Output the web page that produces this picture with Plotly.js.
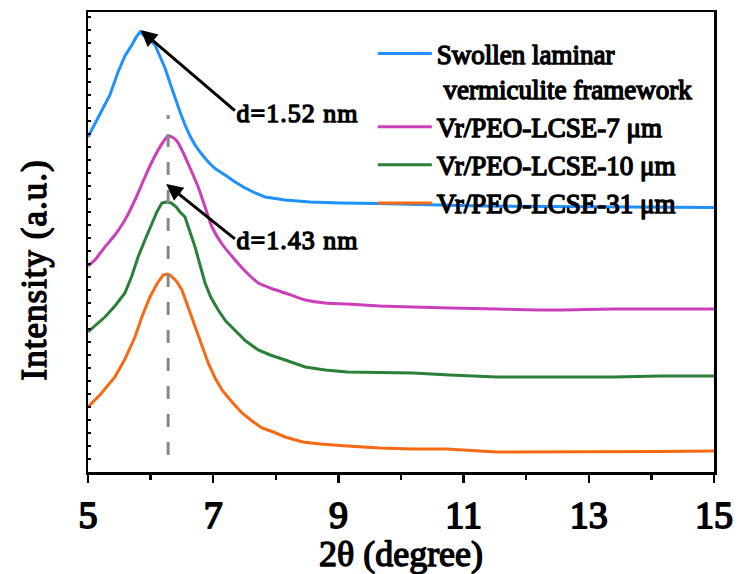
<!DOCTYPE html>
<html>
<head>
<meta charset="utf-8">
<script src="https://cdn.plot.ly/plotly-3.0.1.min.js"></script>
<style>
html,body{margin:0;padding:0;background:#fff;}
#chart{width:740px;height:574px;}
/* thicken the serif text to a bold look */
#chart svg text{stroke:#000;stroke-width:1.4px;stroke-linejoin:round;}
#chart .xtick text{stroke-width:1.8px;}
#chart .annotation-text{letter-spacing:1px;}
</style>
</head>
<body>
<div id="chart"></div>
<script>
// Series names
const seriesNames = [
  "Swollen laminar<br> vermiculite framework",
  "Vr/PEO-LCSE-7 μm",
  "Vr/PEO-LCSE-10 μm",
  "Vr/PEO-LCSE-31 μm"
];
const seriesColors = ["#1E90FF", "#CC3FB8", "#2B8038", "#F56A12"];

// Swollen laminar vermiculite framework
const blueX = [5.00,5.18,5.35,5.48,5.59,5.70,5.78,5.83,5.89,5.99,6.07,6.15,6.23,6.31,6.39,6.47,6.55,6.63,6.71,6.79,6.92,7.04,7.19,7.35,7.51,7.67,7.83,8.15,8.55,9.03,9.66,10.46,11.26,12.38,13.18,13.98,15.00];
const blueY = [335,356,377,400,416,427,436,440,437,432,427,416,404,389,374,360,347,336,327,320,310,303,297,290,284,279,275,272,270,269,268.5,267,266,265.5,265,265,264.5];

// Vr/PEO-LCSE-7 um
const magX = [5.00,5.11,5.27,5.43,5.59,5.75,5.91,6.02,6.12,6.20,6.28,6.34,6.42,6.50,6.63,6.76,6.87,6.98,7.14,7.35,7.54,7.72,7.91,8.15,8.47,8.79,9.14,9.66,10.19,10.78,11.53,12.33,13.39,15.00];
const magY = [206,212,225,237,252,272,295,310,322,330,336,335,331,322,304,285,265,245,228,212,199,189,184,179,172,169,168,166,165,164,163,162,163,163];

// Vr/PEO-LCSE-10 um
const greenX = [5.00,5.13,5.27,5.43,5.59,5.70,5.80,5.91,6.02,6.10,6.18,6.25,6.33,6.41,6.47,6.55,6.63,6.71,6.79,6.87,6.96,7.08,7.20,7.35,7.52,7.72,7.91,8.15,8.47,8.79,9.14,9.66,10.19,10.78,11.53,12.33,13.39,14.14,15.00];
const greenY = [140,147,155,166,179,196,215,232,249,260,269,270,269,265,260,255,240,225,207,189,175,162,151,142,131,122,117,112,105,102,100,99.5,99,97,95,95,95,96,96];

// Vr/PEO-LCSE-31 um
const orangeX = [5.00,5.19,5.43,5.59,5.75,5.86,5.99,6.10,6.20,6.26,6.31,6.41,6.50,6.60,6.71,6.82,6.92,7.03,7.14,7.30,7.46,7.62,7.78,7.96,8.15,8.43,8.71,9.14,9.66,10.19,10.73,11.53,12.33,13.39,14.14,15.00];
const orangeY = [65,77,95,113,135,155,175,188,197,198,197,191,182,165,145,126,109,94,82,70,59,51,44,40,35,30,28,26,24,23,23,20,20,20,20.5,21];

// Dashed reference line at the common peak position
const dashX = [6.28, 6.28];
const dashY = [17, 357];

// Annotations (label text, arrow head, arrow tail, label position)
const annoText = ["d=1.52 nm", "d=1.43 nm"];
const annoHeadX = [5.84, 6.25];
const annoHeadY = [442, 288];
const annoTailX = [7.37, 7.37];
const annoTailY = [360, 232];
const annoLabelX = [7.41, 7.41];
const annoLabelY = [359, 232];

// Axis ticks
const xTickVals = [5, 7, 9, 11, 13, 15];
const xTickText = ["5", "7", "9", "11", "13", "15"];

const FONT = "Liberation Serif, DejaVu Serif Condensed";
const W = 400;

const xs = [blueX, magX, greenX, orangeX];
const ys = [blueY, magY, greenY, orangeY];
const traces = xs.map((x, i) => ({
  x: x, y: ys[i], type: "scatter", mode: "lines", name: seriesNames[i],
  line: i === 1 ? {color: seriesColors[i], width: 3, shape: "spline", smoothing: 0.6}
                : {color: seriesColors[i], width: 3}
}));
traces.push({
  x: dashX, y: dashY, type: "scatter", mode: "lines", showlegend: false,
  line: {color: "#888888", width: 3, dash: "13px,15px"}, hoverinfo: "skip"
});

const annotations = [];
for (let i = 0; i < annoText.length; i++) {
  annotations.push({
    x: annoHeadX[i], y: annoHeadY[i], ax: annoTailX[i], ay: annoTailY[i],
    xref: "x", yref: "y", axref: "x", ayref: "y", text: "",
    showarrow: true, arrowhead: 2, arrowsize: 1.1, arrowwidth: 3, arrowcolor: "#000",
    standoff: 0, startstandoff: 0
  });
  annotations.push({
    x: annoLabelX[i], y: annoLabelY[i], xref: "x", yref: "y", text: annoText[i],
    showarrow: false, xanchor: "left", yanchor: "middle",
    font: {family: FONT, size: 26, color: "#000", weight: W}
  });
}
annotations.push({
  x: -0.085, y: 0.44, xref: "paper", yref: "paper", text: "Intensity (a.u.)",
  textangle: -90, showarrow: false, xanchor: "center", yanchor: "middle",
  font: {family: FONT, size: 35, color: "#000", weight: W}
});

const layout = {
  width: 740, height: 574,
  margin: {l: 88, r: 26, t: 12, b: 102},
  paper_bgcolor: "#fff", plot_bgcolor: "#fff",
  font: {family: FONT, color: "#000", weight: W},
  showlegend: true,
  legend: {
    x: 0.455, y: 0.962, xanchor: "left", yanchor: "top",
    bgcolor: "rgba(0,0,0,0)", borderwidth: 0, valign: "top",
    tracegroupgap: 0, itemwidth: 54,
    font: {family: FONT, size: 27, color: "#000", weight: W}
  },
  xaxis: {
    range: [5, 15], showgrid: false, zeroline: false,
    showline: true, linecolor: "#000", linewidth: 2.5, mirror: true,
    ticks: "outside", ticklen: 8, tickwidth: 2.5, tickcolor: "#000",
    tickvals: xTickVals, ticktext: xTickText,
    tickfont: {family: FONT, size: 38, color: "#000", weight: W},
    minor: {dtick: 1, tick0: 5, ticks: "outside", ticklen: 5, tickwidth: 2.5, tickcolor: "#000"},
    title: {text: "2θ (degree)", standoff: 6,
      font: {family: FONT, size: 36, color: "#000", weight: W}}
  },
  yaxis: {
    range: [0, 460], showgrid: false, zeroline: false,
    showline: true, linecolor: "#000", linewidth: 2.5, mirror: true,
    ticks: "inside", ticklen: 3, tickwidth: 2, tickcolor: "#000",
    tick0: 0, dtick: 13, showticklabels: false
  },
  annotations: annotations
};

Plotly.newPlot("chart", traces, layout, {displayModeBar: false, staticPlot: true});
</script>
</body>
</html>
